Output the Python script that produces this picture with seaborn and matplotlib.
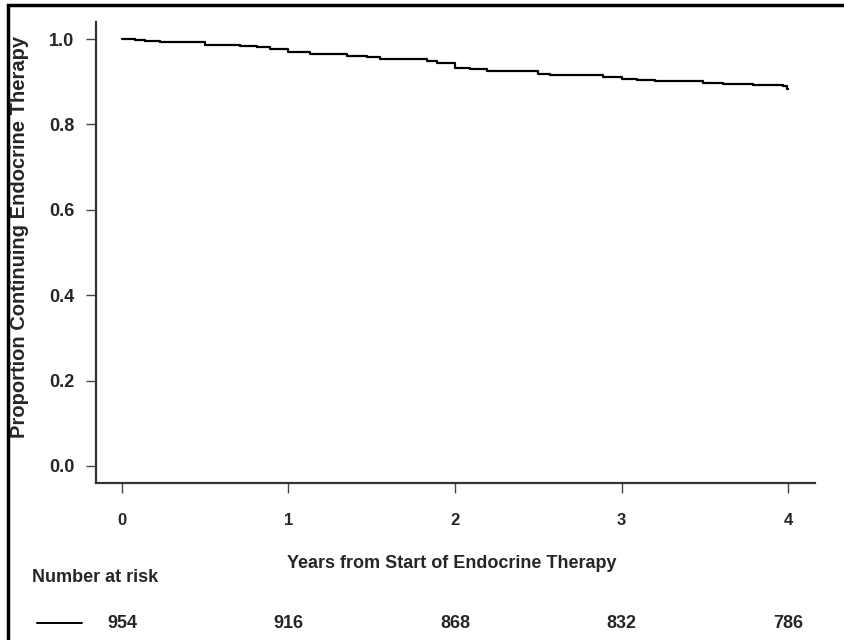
import matplotlib
matplotlib.use("Agg")
import matplotlib.pyplot as plt
import seaborn as sns
import pandas as pd
from matplotlib.patches import Rectangle

# Kaplan-Meier style step curve
years = [0.0, 0.078, 0.138, 0.228, 0.336, 0.498, 0.709, 0.811, 0.889, 0.997,
         1.129, 1.351, 1.471, 1.550, 1.832, 1.892, 2.000, 2.090, 2.192, 2.498,
         2.571, 2.889, 3.003, 3.093, 3.201, 3.489, 3.610, 3.790, 3.970, 3.994, 4.0]
proportion = [1.000, 0.997, 0.996, 0.994, 0.993, 0.987, 0.984, 0.982, 0.976, 0.969,
              0.964, 0.961, 0.958, 0.954, 0.948, 0.943, 0.932, 0.929, 0.925, 0.918,
              0.915, 0.911, 0.907, 0.904, 0.902, 0.896, 0.894, 0.892, 0.889, 0.884, 0.884]

risk_times = [0, 1, 2, 3, 4]
number_at_risk = [954, 916, 868, 832, 786]
y_ticks = [0.0, 0.2, 0.4, 0.6, 0.8, 1.0]

df = pd.DataFrame({"years": years, "proportion": proportion})

sns.set_style("ticks")
plt.rcParams['font.family'] = ['Liberation Sans', 'DejaVu Sans']

fig = plt.figure(figsize=(8.45, 6.4), dpi=100)
ax = fig.add_axes([96 / 845, 1 - 483 / 640, (815 - 96) / 845, (483 - 22) / 640])

sns.lineplot(data=df, x="years", y="proportion", ax=ax, color="black",
             linewidth=1.6, drawstyle="steps-post")

ax.set_xlim(-0.156, 4.162)
ax.set_ylim(-0.04, 1.04)
ax.set_xticks(risk_times)
ax.set_yticks(y_ticks)
ax.set_yticklabels([f"{v:.1f}" for v in y_ticks], fontsize=13, fontweight="bold")
ax.set_xticklabels([str(t) for t in risk_times], fontsize=12, fontweight="bold")
ax.tick_params(axis="y", length=7.5, width=1, color="#444444", pad=8)
ax.tick_params(axis="x", length=7.5, width=1, color="#444444", pad=14)
for side in ["top", "right"]:
    ax.spines[side].set_visible(False)
for side in ["left", "bottom"]:
    ax.spines[side].set_linewidth(1.6)
    ax.spines[side].set_color("#333333")

ax.set_xlabel("")
ax.set_ylabel("")
fig.text(19.5 / 845, 1 - 237 / 640, "Proportion Continuing Endocrine Therapy",
         rotation=90, ha="center", va="center", fontsize=14.5, fontweight="bold")
fig.text(452 / 845, 1 - 564 / 640, "Years from Start of Endocrine Therapy",
         ha="center", va="center", fontsize=13, fontweight="bold")

# number at risk table
fig.text(32 / 845, 1 - 578 / 640, "Number at risk", ha="left", va="center",
         fontsize=13, fontweight="bold")
fig.add_artist(plt.Line2D([37 / 845, 82 / 845], [1 - 623 / 640, 1 - 623 / 640],
                          color="black", linewidth=1.4))
for t, n in zip(risk_times, number_at_risk):
    xf = (96 + (t + 0.156) / 4.318 * 719) / 845
    fig.text(xf, 1 - 623 / 640, str(n), ha="center", va="center",
             fontsize=13, fontweight="bold")

# outer frame
fig.add_artist(Rectangle((8 / 845, -0.05), 1.2, 1 - 5 / 640 + 0.05,
                         transform=fig.transFigure, fill=False,
                         edgecolor="black", linewidth=2.5))

fig.savefig("out.png", dpi=100)
plt.close(fig)
